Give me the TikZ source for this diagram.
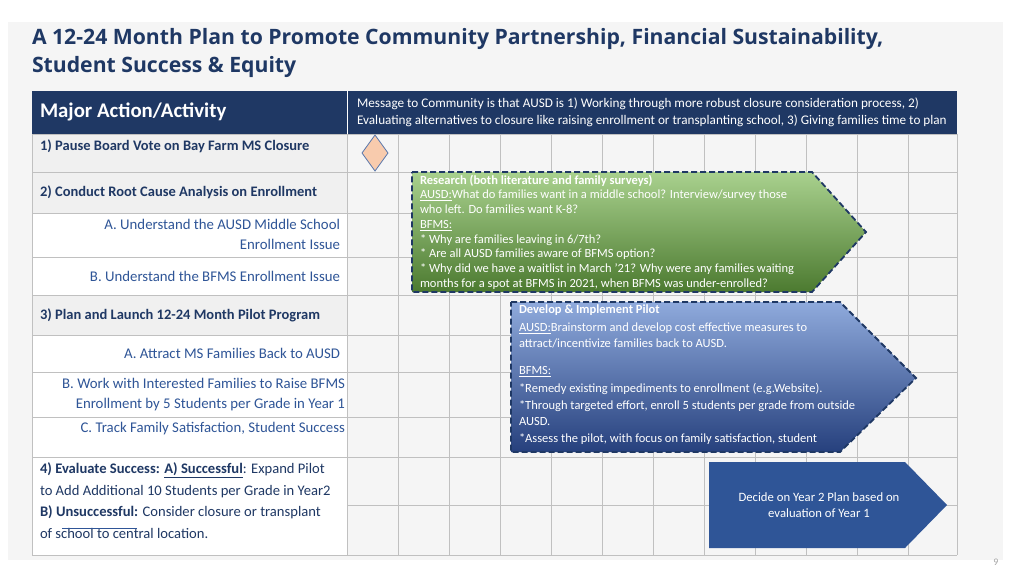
\documentclass[tikz,border=0pt]{standalone}
\usepackage{fontspec}
\setmainfont{Carlito}
\newfontfamily\titlefont{Open Sans}
\usetikzlibrary{positioning,shapes.geometric}

\begin{document}
\begin{tikzpicture}[x=1pt, y=-1pt, every node/.style={inner sep=0pt, outer sep=0pt}]
    \definecolor{plannavy}{RGB}{31,56,100}
    \definecolor{planblue}{RGB}{47,85,151}
    \definecolor{gridgray}{RGB}{192,192,192}
    \definecolor{slidegray}{RGB}{245,245,245}
    \definecolor{rowgray}{RGB}{240,240,240}
    \definecolor{peach}{RGB}{248,203,173}
    \definecolor{greentop}{RGB}{169,209,142}
    \definecolor{greenbottom}{RGB}{76,122,48}
    \definecolor{bluetop}{RGB}{143,170,220}
    \definecolor{bluebottom}{RGB}{38,64,125}
    \tikzset{
        leftmain/.style={font=\fontsize{14.5}{17}\selectfont\bfseries, text=plannavy, anchor=west, align=left},
        leftsub/.style={font=\fontsize{14.8}{20}\selectfont, text=planblue, anchor=east, align=right},
        arrowtext/.style={font=\fontsize{12.5}{14.7}\selectfont, text=white, anchor=north west, align=left},
        planarrow/.style={draw=plannavy, line width=1.8pt, dash pattern=on 6pt off 3pt}
    }
    \useasboundingbox (0,0) rectangle (1024,576);
    \fill[white] (0,0) rectangle (1024,576);
    \fill[slidegray] (8,22) rectangle (1003,560);

    % Title
    \node[font=\titlefont\fontsize{21.2}{28}\selectfont\bfseries, text=plannavy, anchor=north west, align=left] (title) at (32,28)
        {A 12-24 Month Plan to Promote Community Partnership, Financial Sustainability,\\Student Success \& Equity};

    % Row backgrounds
    \fill[rowgray] (32,134) rectangle (347,213);
    \fill[rowgray] (32,295) rectangle (347,335);
    \fill[white] (32,213) rectangle (347,295);
    \fill[white] (32,335) rectangle (347,457);
    \fill[white] (32,457) rectangle (347,555);

    % Grid
    \foreach \y in {134,172,213,257,295,335,372,417,457,555}
        \draw[gridgray, line width=0.8pt] (32,\y) -- (957,\y);
    \draw[gridgray, line width=0.8pt] (347,505) -- (957,505);
    \foreach \x in {32,347,398,449,500,551,602,653,704,755,806,857,908,957}
        \draw[gridgray, line width=0.8pt] (\x,134) -- (\x,555);

    % Header
    \fill[plannavy] (32,91) rectangle (957,134);
    \draw[white, line width=0.8pt] (347,91) -- (347,134);
    \node[font=\fontsize{20.8}{24}\selectfont\bfseries, text=white, anchor=west] (major) at (40,112) {Major Action/Activity};
    \node[font=\fontsize{13.2}{17}\selectfont, text=white, anchor=west, align=left] (message) at (357,112)
        {Message to Community is that AUSD is 1) Working through more robust closure consideration process, 2)\\Evaluating alternatives to closure like raising enrollment or transplanting school, 3) Giving families time to plan};

    % Left column
    \node[leftmain] (pause) at (40,146) {1) Pause Board Vote on Bay Farm MS Closure};
    \node[leftmain] (rootcause) at (40,192) {2) Conduct Root Cause Analysis on Enrollment};
    \node[leftsub] (understand) at (340,234) {A. Understand the AUSD Middle School\\Enrollment Issue};
    \node[leftsub] (understandb) at (340,276) {B. Understand the BFMS Enrollment Issue};
    \node[leftmain] (launch) at (40,315) {3) Plan and Launch 12-24 Month Pilot Program};
    \node[leftsub] (attract) at (340,353) {A. Attract MS Families Back to AUSD};
    \node[leftsub] (raise) at (345,395) {B. Work with Interested Families to Raise BFMS\\Enrollment by 5 Students per Grade in Year 1};
    \node[leftsub] (track) at (345,429) {C. Track Family Satisfaction, Student Success};
    \node[font=\fontsize{14.6}{21.5}\selectfont, text=plannavy, anchor=north west, align=left] (evaluate) at (40,463)
        {\textbf{4) Evaluate Success: \underline{A) Successful}}: Expand Pilot\\to Add Additional 10 Students per Grade in Year2\\
        \textbf{B) Unsuccessful:} Consider closure or transplant\\of school to central location.};
    \draw[planblue, line width=0.8pt] (62,528) -- (137,528);

    % Milestone diamond
    \node[diamond, draw=planblue!80, fill=peach, line width=0.8pt, minimum width=26pt, minimum height=36pt] (vote) at (375,153) {};

    % Research arrow
    \shade[top color=greentop, bottom color=greenbottom, planarrow]
        (412,172) -- (812,172) -- (866,232) -- (812,292) -- (412,292) -- cycle;
    \node[arrowtext] (research) at (420,175)
        {\textbf{Research (both literature and family surveys)}\\
        \underline{AUSD:}What do families want in a middle school? Interview/survey those\\
        who left. Do families want K-8?\\
        \underline{BFMS:}\\
        * Why are families leaving in 6/7th?\\
        * Are all AUSD families aware of BFMS option?\\
        * Why did we have a waitlist in March '21? Why were any families waiting\\
        months for a spot at BFMS in 2021, when BFMS was under-enrolled?};

    % Pilot arrow
    \shade[top color=bluetop, bottom color=bluebottom, planarrow]
        (511,302) -- (840,302) -- (916,378) -- (840,452) -- (511,452) -- cycle;
    \node[arrowtext, font=\fontsize{12.5}{16.5}\selectfont] (pilot) at (519,305)
        {\textbf{Develop \& Implement Pilot}\\[1pt]
        \underline{AUSD:}Brainstorm and develop cost effective measures to\\
        attract/incentivize families back to AUSD.\\[10pt]
        \underline{BFMS:}\\[2pt]
        *Remedy existing impediments to enrollment (e.g.Website).\\
        *Through targeted effort, enroll 5 students per grade from outside\\
        AUSD.\\
        *Assess the pilot, with focus on family satisfaction, student};

    % Decision arrow
    \fill[planblue] (709,462) -- (905,462) -- (947,505) -- (905,548) -- (709,548) -- cycle;
    \node[font=\fontsize{12.7}{16}\selectfont, text=white, align=center] (decide) at (819,505)
        {Decide on Year 2 Plan based on\\evaluation of Year 1};

    % Page number
    \node[font=\fontsize{10}{11}\selectfont, text=gray!70] (page) at (996,562) {9};
\end{tikzpicture}
\end{document}
